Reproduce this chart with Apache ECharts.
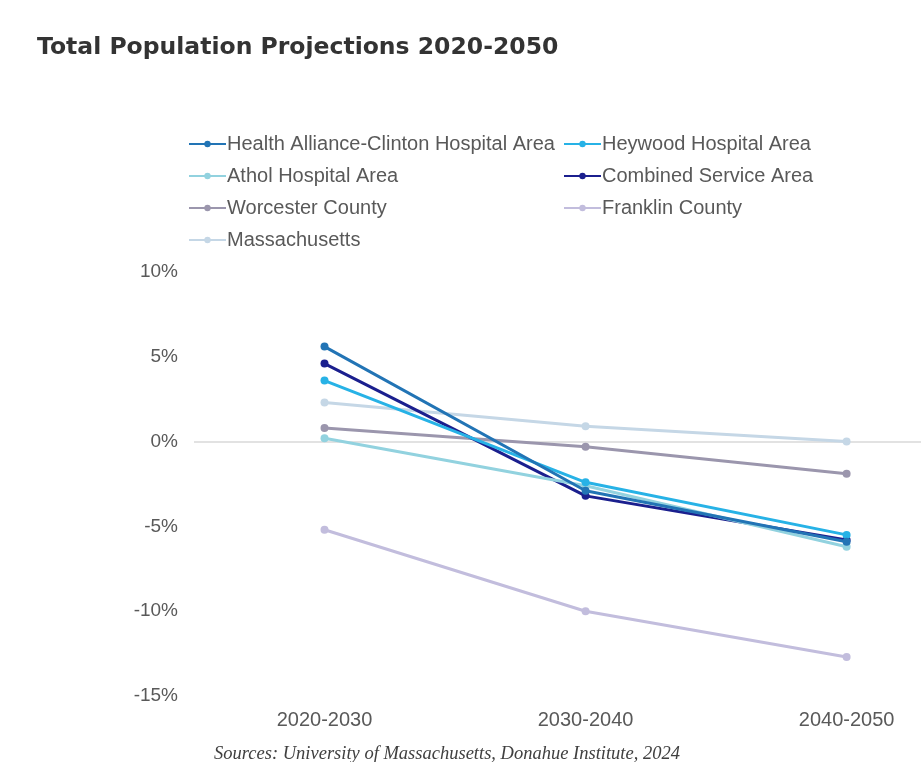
<!DOCTYPE html>
<html>
<head>
<meta charset="utf-8">
<script src="https://cdn.jsdelivr.net/npm/echarts@6/dist/echarts.min.js"></script>
<style>
  html, body { margin: 0; padding: 0; background: #ffffff; }
  #chart { width: 921px; height: 762px; }
</style>
</head>
<body>
<div id="chart"></div>
<script>
// Decade periods on the x axis
const periods = ['2020-2030', '2030-2040', '2040-2050'];

// Projected population change, percent per decade
const healthAlliance = [5.6, -2.9, -5.9];
const heywood = [3.6, -2.4, -5.5];
const athol = [0.2, -2.6, -6.2];
const combined = [4.6, -3.2, -5.8];
const worcester = [0.8, -0.3, -1.9];
const franklin = [-5.2, -10.0, -12.7];
const massachusetts = [2.3, 0.9, 0.0];

// Y axis range
const yMin = -15, yMax = 10, yStep = 5;

const seriesDefs = [
  { name: 'Health Alliance-Clinton Hospital Area', data: healthAlliance, color: '#2274b5' },
  { name: 'Heywood Hospital Area', data: heywood, color: '#27b2e6' },
  { name: 'Athol Hospital Area', data: athol, color: '#92d2df' },
  { name: 'Combined Service Area', data: combined, color: '#1b1f8e' },
  { name: 'Worcester County', data: worcester, color: '#9b96ad' },
  { name: 'Franklin County', data: franklin, color: '#c2bddd' },
  { name: 'Massachusetts', data: massachusetts, color: '#c5d7e6' }
];

// Legend slots: two columns, four rows
const legendPos = [
  [188, 134], [563, 134],
  [188, 166], [563, 166],
  [188, 198], [563, 198],
  [188, 230]
];

const chart = echarts.init(document.getElementById('chart'));

// periods sit at x = 0, 1, 2 on a value axis; the plot runs past the right edge
const series = seriesDefs.map((s, i) => ({
  name: s.name,
  type: 'line',
  data: s.data.map((v, k) => [k, v]),
  symbol: 'circle',
  symbolSize: 8,
  z: 10 - i,
  lineStyle: { width: 3, color: s.color },
  itemStyle: { color: s.color },
  emphasis: { disabled: true }
}));

// zero reference line
series[0].markLine = {
  silent: true,
  symbol: 'none',
  label: { show: false },
  lineStyle: { color: '#d9d9d9', width: 1.5, type: 'solid' },
  data: [{ yAxis: 0 }],
  z: 1
};

const legends = seriesDefs.map((s, i) => ({
  data: [s.name],
  left: legendPos[i][0],
  top: legendPos[i][1],
  padding: 0,
  itemWidth: 37,
  itemHeight: 8,
  itemGap: 0,
  textStyle: {
    fontFamily: 'Liberation Sans, Arial, sans-serif',
    fontSize: 20,
    color: '#595959',
    padding: [0, 0, 0, -4]
  }
}));

chart.setOption({
  animation: false,
  backgroundColor: '#ffffff',
  title: [
    {
      text: 'Total Population Projections 2020-2050',
      left: 32,
      top: 31,
      textStyle: {
        fontFamily: '"DejaVu Sans", sans-serif',
        fontWeight: 'bold',
        fontSize: 23.5,
        color: '#333333'
      }
    },
    {
      text: 'Sources: University of Massachusetts, Donahue Institute, 2024',
      left: 442,
      textAlign: 'center',
      top: 740,
      textStyle: {
        fontFamily: 'Liberation Serif, "Times New Roman", serif',
        fontStyle: 'italic',
        fontWeight: 'normal',
        fontSize: 18.5,
        color: '#404040'
      }
    }
  ],
  legend: legends,
  grid: { left: 194, right: 0, top: 272, bottom: 66, containLabel: false },
  xAxis: {
    type: 'value',
    min: -0.5,
    max: 2.285,
    axisLine: { show: false },
    axisTick: { show: false },
    splitLine: { show: false },
    axisLabel: {
      customValues: [0, 1, 2],
      formatter: v => periods[v],
      margin: 14,
      fontFamily: 'Liberation Sans, Arial, sans-serif',
      fontSize: 20,
      color: '#595959'
    }
  },
  yAxis: {
    type: 'value',
    min: yMin,
    max: yMax,
    interval: yStep,
    axisLine: { show: false },
    axisTick: { show: false },
    splitLine: { show: false },
    axisLabel: {
      margin: 16,
      fontFamily: 'Liberation Sans, Arial, sans-serif',
      fontSize: 19,
      color: '#595959',
      formatter: v => v + '%'
    }
  },
  series: series
});
</script>
</body>
</html>
